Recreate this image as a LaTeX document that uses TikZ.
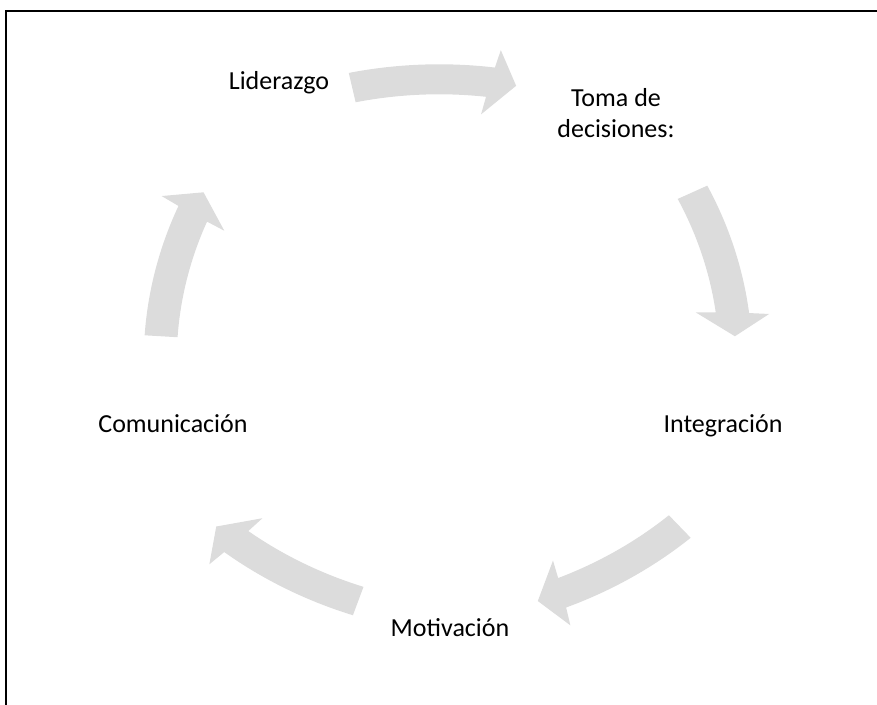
\documentclass[tikz,border=0pt]{standalone}
\usepackage{fontspec}
\setmainfont{Carlito}
\usetikzlibrary{calc,positioning}
\definecolor{cycGrey}{HTML}{DCDCDC}
\tikzset{
  lbl/.style={font=\fontsize{26}{31}\selectfont, text=black, align=center, inner sep=0pt},
  cyc/.style={fill=cycGrey, draw=none},
  frame/.style={draw=black, line width=2pt},
}

\begin{document}
\begin{tikzpicture}[x=1pt,y=1pt]
  \useasboundingbox (0,0) rectangle (877,704);
  \clip (0,0) rectangle (877,704);
  \draw[frame] (6,693) rectangle (900,-20);
  \coordinate (c) at (448,356);
  \begin{scope}[shift={(c)}, xscale=1.1]
    \foreach \p/\r/\d in {92.7/269/-2, 19/263/-4, -56/268/-4, -124/268/4, 161/263/4}{
      \begin{scope}[shift={(\p:\r)}, rotate=\p-90+\d, yshift=-380pt]
        \fill[cyc] (101.31:395) arc[start angle=101.31, end angle=81.93, radius=395]
          -- (81.5:413) -- (78.69:380) -- (83.0:347) -- (82.6:365)
          arc[start angle=82.6, end angle=101.31, radius=365] -- cycle;
      \end{scope}
    }
  \end{scope}
  \node[lbl,anchor=base] (lid) at (279,614) {Liderazgo};
  \node[lbl] (toma) at (616,591) {Toma de\\decisiones:};
  \node[lbl,anchor=base] (integ) at (723,271) {Integración};
  \node[lbl,anchor=base] (motiv) at (450,68) {Motivación};
  \node[lbl,anchor=base] (comun) at (173,271) {Comunicación};
\end{tikzpicture}
\end{document}
